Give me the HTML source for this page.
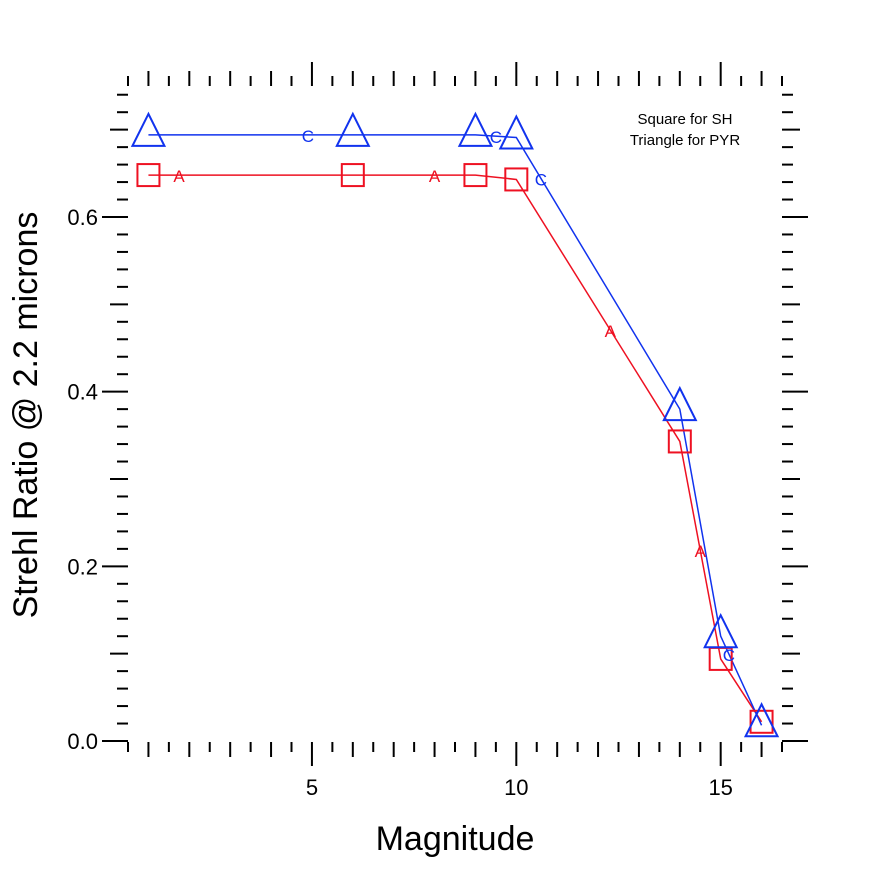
<!DOCTYPE html>
<html><head><meta charset="utf-8"><style>
html,body{margin:0;padding:0;background:#fff;}
svg{display:block;font-family:"Liberation Sans",sans-serif;}
</style></head><body>
<svg id="chart" width="892" height="882" viewBox="0 0 892 882" xmlns="http://www.w3.org/2000/svg">
<g id="ticks"></g>
<g id="labels"></g>
<g id="series"></g>
<text x="455" y="850" font-size="34" text-anchor="middle">Magnitude</text>
<text transform="translate(37,415) rotate(-90)" font-size="34" text-anchor="middle">Strehl Ratio @ 2.2 microns</text>
<text x="685" y="124" font-size="15" text-anchor="middle">Square for SH</text>
<text x="685" y="145" font-size="15" text-anchor="middle">Triangle for PYR</text>
</svg>
<script>
const magnitudes = [1, 6, 9, 10, 14, 15, 16];
const shValues = [0.648, 0.648, 0.648, 0.643, 0.343, 0.094, 0.022];
const pyrValues = [0.694, 0.694, 0.694, 0.691, 0.38, 0.12, 0.018];
const xTickLabels = [5, 10, 15];
const yTickLabels = [0.0, 0.2, 0.4, 0.6];
const shLetterX = [1.75, 8, 12.3, 14.5];
const pyrLetterX = [4.9, 9.5, 10.6, 15.2];

const NS = "http://www.w3.org/2000/svg";
const L = 128, R = 782, T = 86, B = 741;
const xMin = 0.5, xMax = 16.5, yMin = 0, yMax = 0.75;
const xs = v => L + (v - xMin) / (xMax - xMin) * (R - L);
const ys = v => B - (v - yMin) / (yMax - yMin) * (B - T);
function mk(tag, attrs, parent) {
  const e = document.createElementNS(NS, tag);
  for (const k in attrs) e.setAttribute(k, attrs[k]);
  parent.appendChild(e); return e;
}
const tg = document.getElementById('ticks');
for (let i = 0; i <= 32; i++) {
  const v = xMin + i * 0.5, x = xs(v);
  const major = Math.abs(v % 5) < 1e-6, med = Math.abs(v % 1) < 1e-6;
  const len = major ? 24 : med ? 15 : 10;
  let t = mk('line', {x1: x, x2: x, y1: T, y2: T - len, stroke: '#000', 'stroke-width': 2}, tg);
  
  
  t = mk('line', {x1: x, x2: x, y1: B + 1, y2: B + 1 + len, stroke: '#000', 'stroke-width': 2}, tg);
  
  
}
for (let i = 0; i <= 37; i++) {
  const v = i * 0.02, y = ys(v);
  const major = i % 10 === 0, med = i % 5 === 0;
  const len = major ? 26 : med ? 18 : 11;
  let t = mk('line', {x1: L, x2: L - len, y1: y, y2: y, stroke: '#000', 'stroke-width': 2}, tg);
  
  
  t = mk('line', {x1: R, x2: R + len, y1: y, y2: y, stroke: '#000', 'stroke-width': 2}, tg);
  
  
}
const lg = document.getElementById('labels');
xTickLabels.forEach(v => {
  const t = mk('text', {x: xs(v), y: 795, 'font-size': 22, 'text-anchor': 'middle'}, lg);
  t.textContent = v;
  
  
});
yTickLabels.forEach(v => {
  const t = mk('text', {x: 98, y: ys(v) + 8, 'font-size': 22, 'text-anchor': 'end'}, lg);
  t.textContent = v.toFixed(1);
  
  
});
const sg = document.getElementById('series');
function interp(xArr, yArr, x) {
  for (let i = 0; i < xArr.length - 1; i++)
    if (x >= xArr[i] && x <= xArr[i + 1]) return yArr[i] + (yArr[i + 1] - yArr[i]) * (x - xArr[i]) / (xArr[i + 1] - xArr[i]);
  return yArr[yArr.length - 1];
}
function series(vals, color, name) {
  const pts = magnitudes.map((m, i) => xs(m) + ',' + ys(vals[i])).join(' ');
  const pl = mk('polyline', {points: pts, fill: 'none', stroke: color, 'stroke-width': 1.5}, sg);
  
  
}
series(shValues, '#ee1122', 'sh');
series(pyrValues, '#1133ee', 'pyr');
magnitudes.forEach((m, i) => {
  const x = xs(m), y = ys(shValues[i]);
  const r = mk('rect', {x: x - 11, y: y - 11, width: 22, height: 22, fill: 'none', stroke: '#ee1122', 'stroke-width': 2}, sg);
  
  
});
magnitudes.forEach((m, i) => {
  const x = xs(m), y = ys(pyrValues[i]);
  const p = mk('polygon', {points: `${x},${y - 21} ${x - 16},${y + 11} ${x + 16},${y + 11}`, fill: 'none', stroke: '#1133ee', 'stroke-width': 2}, sg);
  
  
});
shLetterX.forEach(v => {
  const t = mk('text', {x: xs(v), y: ys(interp(magnitudes, shValues, v)) + 7, 'font-size': 17, fill: '#ee1122', 'text-anchor': 'middle'}, sg);
  t.textContent = 'A';
  
  
});
pyrLetterX.forEach(v => {
  const t = mk('text', {x: xs(v), y: ys(interp(magnitudes, pyrValues, v)) + 7, 'font-size': 17, fill: '#1133ee', 'text-anchor': 'middle'}, sg);
  t.textContent = 'C';
  
  
});
</script>
</body></html>
